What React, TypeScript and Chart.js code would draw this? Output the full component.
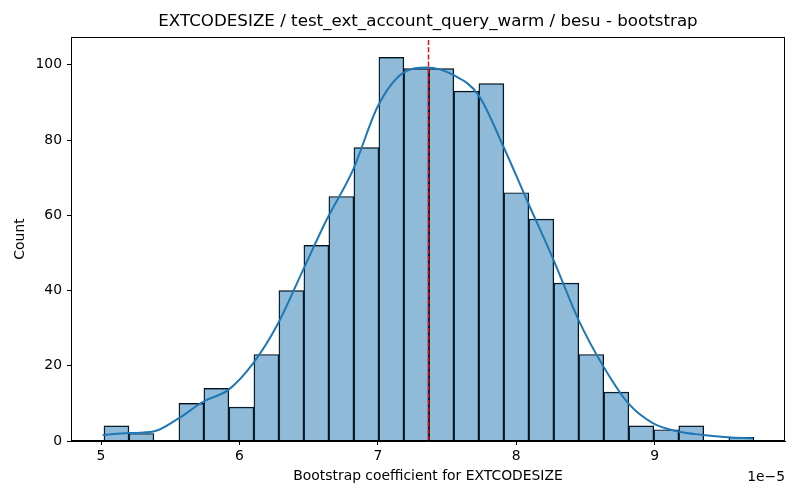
import React, { useEffect, useRef } from 'react';
import Chart from 'chart.js/auto';

// x values are in units of 1e-5
const binEdges = [
  5.021, 5.202, 5.382, 5.563, 5.743, 5.924, 6.105, 6.285, 6.466, 6.646, 6.827, 7.008, 7.188,
  7.369, 7.549, 7.73, 7.911, 8.091, 8.272, 8.452, 8.633, 8.814, 8.994, 9.175, 9.355, 9.536, 9.717,
];
const binCounts = [
  4, 2, 0, 10, 14, 9, 23, 40, 52, 65, 78, 102, 99, 99, 93, 95, 66, 59, 42, 23, 13, 4, 3, 4, 0, 1,
];

// KDE curve (scaled to counts)
const kdeX = [
  5.012, 5.2, 5.378, 5.56, 5.74, 5.92, 6.1, 6.28, 6.46, 6.63, 6.82, 7.0, 7.18, 7.355, 7.545,
  7.726, 7.907, 8.087, 8.27, 8.45, 8.63, 8.81, 8.99, 9.17, 9.35, 9.53, 9.71,
];
const kdeY = [
  1.6, 2.1, 2.5, 6, 10.5, 13.6, 20.7, 31.3, 45.5, 58.8, 72, 89, 97.8, 99.3, 97.3,
  92, 78.3, 63.2, 48.1, 32.2, 19.8, 10, 4.7, 2.5, 1.6, 1.0, 0.7,
];

const meanValue = 7.366;
const xMin = 4.783;
const xMax = 9.942;
const yMax = 107.4;
const xTicks = [5, 6, 7, 8, 9];
const yTicks = [0, 20, 40, 60, 80, 100];

const titleText = 'EXTCODESIZE / test_ext_account_query_warm / besu - bootstrap';
const xLabel = 'Bootstrap coefficient for EXTCODESIZE';
const yLabel = 'Count';
const offsetText = '1e\u22125';

const FONT = "'DejaVu Sans', sans-serif";

const frame = {
  id: 'frame',
  afterDraw(chart: any) {
    const { ctx, chartArea } = chart;
    ctx.save();
    ctx.strokeStyle = '#000';
    ctx.lineWidth = 1;
    ctx.strokeRect(
      Math.round(chartArea.left) + 0.5,
      Math.round(chartArea.top) + 0.5,
      Math.round(chartArea.right - chartArea.left) - 1,
      Math.round(chartArea.bottom - chartArea.top) - 1,
    );
    ctx.fillStyle = '#000';
    ctx.font = `16.7px ${FONT}`;
    ctx.textAlign = 'center';
    ctx.textBaseline = 'middle';
    ctx.fillText(titleText, (chartArea.left + chartArea.right) / 2, 22);
    ctx.font = `13.9px ${FONT}`;
    ctx.textAlign = 'right';
    ctx.fillText(offsetText, chartArea.right, 477);
    ctx.restore();
  },
};

const App: React.FC = () => {
  const chartRef = useRef<HTMLCanvasElement | null>(null);

  useEffect(() => {
    document.body.style.margin = '0';
    if (!chartRef.current) return;
    const ctx = chartRef.current.getContext('2d');

    const bars = binCounts.map((c, i) => ({
      x: (binEdges[i] + binEdges[i + 1]) / 2,
      y: c === 0 ? null : c,
    }));
    const kde = kdeX.map((x, i) => ({ x, y: kdeY[i] }));

    const chart = new Chart(ctx!, {
      type: 'bar',
      data: {
        datasets: [
          {
            type: 'line',
            data: [
              { x: meanValue, y: 0 },
              { x: meanValue, y: yMax },
            ],
            borderColor: 'red',
            borderWidth: 1.4,
            borderDash: [5, 2.2],
            pointRadius: 0,
            order: 1,
          } as any,
          {
            type: 'line',
            data: kde,
            borderColor: '#1f77b4',
            borderWidth: 2,
            pointRadius: 0,
            cubicInterpolationMode: 'monotone',
            order: 2,
          } as any,
          {
            type: 'bar',
            data: bars,
            backgroundColor: 'rgba(31,119,180,0.5)',
            borderColor: '#000',
            borderWidth: 0.8,
            barPercentage: 1,
            categoryPercentage: 1,
            order: 3,
          } as any,
        ],
      },
      options: {
        responsive: false,
        animation: false,
        layout: { padding: { top: 37, right: 15, left: 0, bottom: 0 } },
        plugins: {
          legend: { display: false },
          tooltip: { enabled: false },
          title: { display: false },
        },
        scales: {
          x: {
            type: 'linear',
            min: xMin,
            max: xMax,
            offset: false,
            grid: { offset: false, drawOnChartArea: false, drawTicks: true, tickLength: 4, color: '#000' },
            border: { display: true, color: '#000' },
            afterBuildTicks: (scale: any) => {
              scale.ticks = xTicks.map((v) => ({ value: v }));
            },
            ticks: {
              autoSkip: false,
              maxRotation: 0,
              padding: 3,
              color: '#000',
              font: { family: FONT, size: 13.9 },
              callback: (v: any) => String(v),
            },
            title: {
              display: true,
              text: xLabel,
              color: '#000',
              font: { family: FONT, size: 13.9 },
              padding: { top: 0, bottom: 15 },
            },
            afterFit: (scale: any) => {
              scale.height = 59;
            },
          },
          y: {
            min: 0,
            max: yMax,
            grid: { offset: false, drawOnChartArea: false, drawTicks: true, tickLength: 4, color: '#000' },
            border: { display: true, color: '#000' },
            afterBuildTicks: (scale: any) => {
              scale.ticks = yTicks.map((v) => ({ value: v }));
            },
            ticks: {
              autoSkip: false,
              padding: 5,
              color: '#000',
              font: { family: FONT, size: 13.9 },
            },
            title: {
              display: true,
              text: yLabel,
              color: '#000',
              font: { family: FONT, size: 13.9 },
              padding: { top: 12, bottom: 0 },
            },
            afterFit: (scale: any) => {
              scale.width = 71;
            },
          },
        },
      },
      plugins: [frame],
    });

    return () => {
      chart.destroy();
    };
  }, []);

  return (
    <div style={{ width: 800, height: 500, background: '#fff' }}>
      <canvas ref={chartRef} width={800} height={500} style={{ width: '800px', height: '500px' }}></canvas>
    </div>
  );
};

export default App;
